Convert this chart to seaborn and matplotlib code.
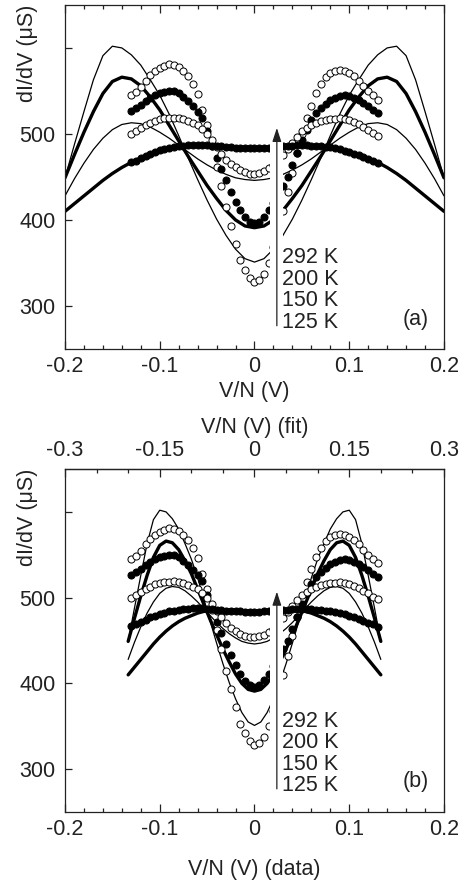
import numpy as np
import matplotlib
matplotlib.use("Agg")
import matplotlib.pyplot as plt
from matplotlib.ticker import MultipleLocator
import seaborn as sns

# --- fit curves, sampled every 0.01 V on the fit axis (-0.2 ... 0.2) ---
fit_v = np.round(np.linspace(-0.2, 0.2, 41), 3)
fit_125 = [449, 488, 526, 563, 591, 602, 600, 592, 580, 563, 545, 523, 498, 472, 447, 423, 401, 382, 366, 355,
           351,
           355, 366, 382, 401, 423, 447, 472, 498, 523, 545, 563, 580, 592, 600, 602, 591, 563, 526, 488, 449]
fit_150 = [449, 476, 502, 526, 547, 561, 566, 564, 556, 543, 528, 510, 492, 474, 457, 440, 425, 411, 400, 393,
           391,
           393, 400, 411, 425, 440, 457, 474, 492, 510, 528, 543, 556, 564, 566, 561, 547, 526, 502, 476, 449]
fit_200 = [428, 448, 466, 482, 495, 505, 511, 513, 512, 508, 502, 495, 487, 479, 471, 464, 458, 453, 449, 447,
           446,
           447, 449, 453, 458, 464, 471, 479, 487, 495, 502, 508, 512, 513, 511, 505, 495, 482, 466, 448, 428]
fit_292 = [410, 419, 428, 437, 446, 454, 461, 467, 472, 476, 479, 482, 484, 485, 486, 486, 486, 485.5, 485, 484.5,
           484,
           484.5, 485, 485.5, 486, 486, 486, 485, 484, 482, 479, 476, 472, 467, 461, 454, 446, 437, 428, 419, 410]

# --- measured data, sampled every 0.005 V (-0.13 ... 0.13) ---
data_v = np.round(np.linspace(-0.13, 0.13, 53), 3)
data_125 = [545, 549, 555, 562, 568, 573, 577, 579, 581, 580, 578, 573, 567, 558, 546, 528, 510, 486, 462, 440,
            415, 393, 372, 353, 342, 333, 328,
            330, 337, 350, 368, 388, 410, 432, 455, 478, 500, 518, 533, 548, 558, 566, 571, 573.5, 574, 573,
            571, 567, 562, 556, 550, 545, 540]
data_150 = [527, 530, 534, 538, 542, 545, 547.5, 549, 550, 550, 548, 543, 538, 532, 526, 519, 503, 488, 472, 459,
            446, 433, 421, 411, 403, 398, 396,
            398, 404, 411, 420, 430, 440, 450, 464, 478, 493, 505, 516, 524, 530, 535, 539, 542, 544, 545,
            544, 542, 539, 536, 532, 528, 524]
data_200 = [500, 503, 507, 510, 513, 515.5, 517, 518, 518.5, 519, 518.5, 517, 515, 512.5, 510, 506, 500, 493, 485,
            477, 470, 465, 461, 458, 455.5, 454, 454,
            455, 457, 460, 464, 469, 476, 483, 490, 497, 503, 507, 510, 512.5, 514.5, 516, 517, 517.5, 518,
            517.5, 516, 514, 511, 508, 505, 501, 498]
data_292 = [467, 469, 472, 474.5, 477, 479, 481, 482.5, 484, 485, 486, 486.5, 487, 487.5, 487.5, 487.5, 487, 486.5,
            486, 485.5, 485, 484.5, 484, 484, 483.5, 483.5, 483.5,
            483.5, 484, 484, 484.5, 485, 485.5, 486, 486.5, 487, 487, 487, 486.5, 486, 485.5, 485, 484.5, 483.5,
            482, 480.5, 479, 477, 475, 473, 471, 469, 466]

temps = ["292 K", "200 K", "150 K", "125 K"]
fit_scale = 1.5  # fit voltage axis / data voltage axis in panel (b)

sns.set_theme(style="ticks")
plt.rcParams["font.family"] = ["Liberation Sans", "DejaVu Sans"]
plt.rcParams["font.size"] = 15
ink = "#222222"

fig = plt.figure(figsize=(4.62, 8.81), dpi=100)
ax_a = fig.add_axes([0.1407, 0.6039, 0.8203, 0.3905])
ax_b = fig.add_axes([0.1407, 0.0783, 0.8203, 0.3893])


def draw_panel(ax, fit_x):
    fits = [(fit_125, 0.9), (fit_150, 2.4), (fit_200, 0.9), (fit_292, 2.4)]
    for ys, lw in fits:
        sns.lineplot(x=fit_x, y=ys, ax=ax, color="black", lw=lw, sort=False, zorder=2)
    for ys, filled in [(data_125, False), (data_150, True), (data_200, False), (data_292, True)]:
        sns.scatterplot(x=data_v, y=ys, ax=ax, s=26, marker="o",
                        color="black" if filled else "white", edgecolor="black",
                        linewidth=0.7, zorder=3)
    # white gap behind the temperature arrow (kept inside the frame)
    ax.axvspan(0.0168, 0.0305, ymin=0.03, ymax=0.9, color="white", zorder=4, lw=0)
    ax.annotate("", xy=(0.0236, 507), xytext=(0.0236, 277),
                arrowprops=dict(arrowstyle="-|>,head_length=0.55,head_width=0.18",
                                lw=0.9, color=ink, mutation_scale=15,
                                shrinkA=0, shrinkB=0), zorder=5)
    for i, t in enumerate(temps):
        ax.text(0.029, 356 - 25 * i, t, ha="left", va="center", color=ink,
                fontsize=15.5, zorder=6)

    ax.set_xlim(-0.2, 0.2)
    ax.set_ylim(250, 650)
    ax.set_xticks([-0.2, -0.1, 0, 0.1, 0.2])
    ax.set_xticklabels(["-0.2", "-0.1", "0", "0.1", "0.2"])
    ax.xaxis.set_minor_locator(MultipleLocator(0.02))
    ax.set_yticks([300, 400, 500, 600])
    ax.set_yticklabels(["300", "400", "500", ""])
    ax.tick_params(axis="both", which="both", direction="in", colors=ink,
                   labelsize=15.5, width=0.9)
    ax.tick_params(axis="x", which="major", length=5.5, pad=5)
    ax.tick_params(axis="x", which="minor", length=3)
    ax.tick_params(axis="y", which="major", length=5, pad=7)
    for sp in ax.spines.values():
        sp.set_color(ink)
        sp.set_linewidth(0.9)
        sp.set_visible(True)
    ax.set_ylabel("dI/dV (μS)", loc="top", fontsize=15.5, color=ink)
    ax.yaxis.set_label_coords(-0.07, 1.0)


draw_panel(ax_a, fit_v)
ax_a.tick_params(axis="x", which="both", top=True)
ax_a.set_xlabel("V/N (V)", fontsize=15.5, color=ink, labelpad=3)
ax_a.text(0.17, 284, "(a)", ha="center", va="center", fontsize=15.5, color=ink)

draw_panel(ax_b, fit_v / fit_scale)
ax_b.tick_params(axis="x", which="both", top=False)
ax_b.set_xlabel("V/N (V) (data)", fontsize=15.5, color=ink, labelpad=14)
ax_b.text(0.17, 286, "(b)", ha="center", va="center", fontsize=15.5, color=ink)

top = ax_b.secondary_xaxis("top", functions=(lambda v: v * fit_scale, lambda v: v / fit_scale))
top.set_xticks([-0.3, -0.15, 0, 0.15, 0.3])
top.set_xticklabels(["-0.3", "-0.15", "0", "0.15", "0.3"])
top.xaxis.set_minor_locator(MultipleLocator(0.05))
top.tick_params(axis="x", which="both", direction="in", colors=ink, labelsize=15.5, width=0.9)
top.tick_params(axis="x", which="major", length=5.5, pad=6)
top.tick_params(axis="x", which="minor", length=3)
top.spines["top"].set_color(ink)
top.spines["top"].set_linewidth(0.9)
top.set_xlabel("V/N (V) (fit)", fontsize=15.5, color=ink, labelpad=5)

fig.savefig("out.png", dpi=100)
